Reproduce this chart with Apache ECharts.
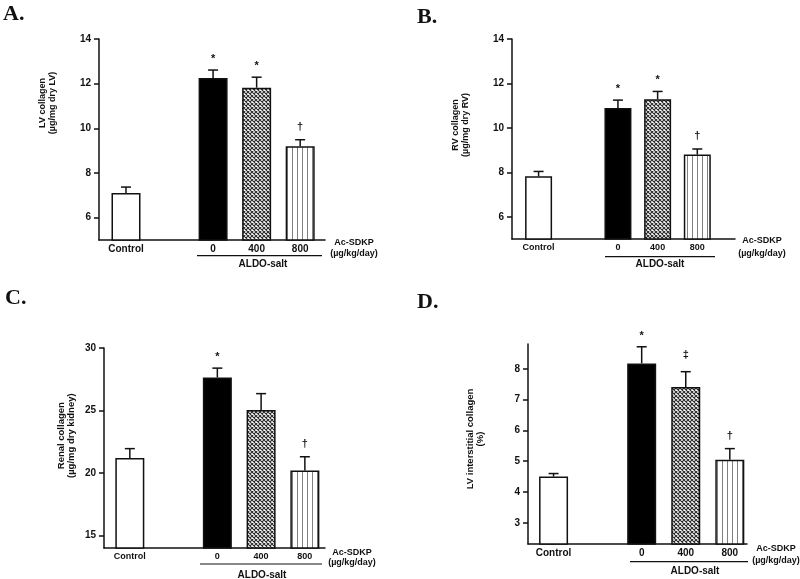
<!DOCTYPE html>
<html>
<head>
<meta charset="utf-8">
<script src="https://cdn.jsdelivr.net/npm/echarts@6/dist/echarts.min.js"></script>
<style>html,body{margin:0;padding:0;background:#fff}#c{width:800px;height:579px}</style>
</head>
<body>
<div id="c"></div>
<script>
// ---- data ----
const categories = ['Control', '0', '400', '800'];

const lvMean = [7.1, 12.25, 11.82, 9.2];
const lvSE = [0.27, 0.36, 0.47, 0.29];
const lvMarks = ['', '*', '*', '†'];
const lvTicks = [6, 8, 10, 12, 14];

const rvMean = [7.82, 10.89, 11.29, 8.8];
const rvSE = [0.22, 0.36, 0.35, 0.25];
const rvMarks = ['', '*', '*', '†'];
const rvTicks = [6, 8, 10, 12, 14];

const renalMean = [21.2, 27.64, 25.05, 20.2];
const renalSE = [0.75, 0.75, 1.3, 1.1];
const renalMarks = ['', '*', '', '†'];
const renalTicks = [15, 20, 25, 30];

const intMean = [4.5, 8.18, 7.41, 5.05];
const intSE = [0.1, 0.54, 0.5, 0.36];
const intMarks = ['', '*', '‡', '†'];
const intTicks = [3, 4, 5, 6, 7, 8];

// ---- layout ----
const xPos = [0, 2, 3, 4];
const SANS = '"Liberation Sans", Arial, Helvetica, sans-serif';
const SERIF = '"Liberation Serif", "Times New Roman", serif';
const INK = '#111';

const panels = [
  {mean: lvMean, se: lvSE, marks: lvMarks, ticks: lvTicks, box: [99, 39, 226, 201], ymin: 5, ymax: 14, xmin: -0.62, xmax: 4.57, barW: 29, catFont: 10,
   letter: ['A.', 3, 14], yname: ['LV collagen\n(µg/mg dry LV)', 47.5, 103, 9], ac: [354, 242.7, 254], aldo: [197, 322, 255.7, 263, 264.5]},
  {mean: rvMean, se: rvSE, marks: rvMarks, ticks: rvTicks, box: [512, 39, 223, 200], ymin: 5, ymax: 14, xmin: -0.67, xmax: 4.95, barW: 27, catFont: 9,
   letter: ['B.', 417, 17.5], yname: ['RV collagen\n(µg/mg dry RV)', 460.5, 125, 9], ac: [762, 240.5, 253.5], aldo: [605, 715, 256.7, 660, 264.5]},
  {mean: renalMean, se: renalSE, marks: renalMarks, ticks: renalTicks, box: [104, 348, 221, 200], ymin: 14, ymax: 30, xmin: -0.59, xmax: 4.46, barW: 29, catFont: 9,
   letter: ['C.', 5, 298.5], yname: ['Renal collagen\n(µg/mg dry kidney)', 66.5, 435.7, 9.5], ac: [352, 552.7, 562.5], aldo: [200, 322, 564, 262, 575]},
  {mean: intMean, se: intSE, marks: intMarks, ticks: intTicks, box: [528, 344, 219, 200], ymin: 2.31, ymax: 8.81, xmin: -0.58, xmax: 4.39, barW: 29, catFont: 10,
   letter: ['D.', 417, 302.5], yname: ['LV interstitial collagen\n(%)', 475, 439, 9.5], ac: [776, 548.5, 560.5], aldo: [630, 748, 561.7, 695, 571]}
];

// ---- fill patterns ----
function hatchTile() {
  const c = document.createElement('canvas'); c.width = 4; c.height = 4;
  const g = c.getContext('2d');
  g.fillStyle = '#fff'; g.fillRect(0, 0, 4, 4);
  g.strokeStyle = '#2a2a2a'; g.lineWidth = 1.1;
  g.beginPath(); g.moveTo(-1, -1); g.lineTo(5, 5); g.moveTo(-1, 5); g.lineTo(5, -1); g.stroke();
  return c;
}
function vlineTile() {
  const c = document.createElement('canvas'); c.width = 5; c.height = 4;
  const g = c.getContext('2d');
  g.fillStyle = '#fff'; g.fillRect(0, 0, 5, 4);
  g.fillStyle = '#808080'; g.fillRect(2, 0, 1, 4);
  return c;
}
const fills = ['#ffffff', '#000000', {image: hatchTile(), repeat: 'repeat'}, {image: vlineTile(), repeat: 'repeat'}];

const chart = echarts.init(document.getElementById('c'), null, {renderer: 'canvas'});

const grids = [], xAxes = [], yAxes = [], series = [], graphics = [];
panels.forEach((p, i) => {
  grids.push({left: p.box[0], top: p.box[1], width: p.box[2], height: p.box[3]});
  xAxes.push({
    type: 'value', gridIndex: i, min: p.xmin, max: p.xmax,
    axisLine: {show: true, onZero: false, lineStyle: {color: INK, width: 1.5}},
    axisTick: {show: false}, splitLine: {show: false},
    axisLabel: {customValues: xPos, formatter: v => categories[xPos.indexOf(v)] || '',
      fontSize: p.catFont, fontWeight: 'bold', color: INK, margin: 4, fontFamily: SANS}
  });
  yAxes.push({
    type: 'value', gridIndex: i, min: p.ymin, max: p.ymax,
    axisLine: {show: true, onZero: false, lineStyle: {color: INK, width: 1.5}},
    axisTick: {show: true, customValues: p.ticks, length: 5, lineStyle: {color: INK, width: 1.5}},
    axisLabel: {customValues: p.ticks, fontSize: 10, fontWeight: 'bold', color: INK, margin: 8, fontFamily: SANS},
    splitLine: {show: false}
  });
  series.push({
    type: 'bar', xAxisIndex: i, yAxisIndex: i, barWidth: p.barW, animation: false,
    data: p.mean.map((m, j) => ({value: [xPos[j], m], itemStyle: {color: fills[j], borderColor: INK, borderWidth: 1.5}}))
  });
  const marks = p.marks;
  series.push({
    type: 'custom', xAxisIndex: i, yAxisIndex: i, z: 10, animation: false,
    data: p.mean.map((m, j) => [xPos[j], m, m + p.se[j]]),
    renderItem: function (params, api) {
      const a = api.coord([api.value(0), api.value(1)]);
      const b = api.coord([api.value(0), api.value(2)]);
      const st = {stroke: INK, lineWidth: 1.5};
      const mk = marks[params.dataIndex];
      const off = mk === '*' ? 11 : (mk === '‡' ? 17 : 13);
      return {type: 'group', children: [
        {type: 'line', shape: {x1: a[0], y1: a[1], x2: b[0], y2: b[1]}, style: st},
        {type: 'line', shape: {x1: b[0] - 5, y1: b[1], x2: b[0] + 5, y2: b[1]}, style: st},
        {type: 'text', x: b[0], y: b[1] - off, style: {text: mk, fill: INK, font: 'bold 11px ' + SANS,
          align: 'center', verticalAlign: 'middle', textAlign: 'center', textVerticalAlign: 'middle'}}
      ]};
    }
  });

  const tx = (text, x, y, font, extra) => Object.assign({type: 'text', x: x, y: y, silent: true,
    style: {text: text, fill: INK, font: font, align: 'center', verticalAlign: 'middle', textAlign: 'center', textVerticalAlign: 'middle'}}, extra || {});
  const lt = tx(p.letter[0], p.letter[1], p.letter[2], 'bold 22px ' + SERIF);
  lt.style.align = 'left'; lt.style.textAlign = 'left';
  graphics.push(lt);
  const yn = tx(p.yname[0], p.yname[1], p.yname[2], 'bold ' + p.yname[3] + 'px ' + SANS, {rotation: Math.PI / 2});
  yn.style.lineHeight = 10;
  graphics.push(yn);
  graphics.push(tx('Ac-SDKP', p.ac[0], p.ac[1], 'bold 9px ' + SANS));
  graphics.push(tx('(µg/kg/day)', p.ac[0], p.ac[2], 'bold 9px ' + SANS));
  graphics.push({type: 'line', silent: true, shape: {x1: p.aldo[0], y1: p.aldo[2], x2: p.aldo[1], y2: p.aldo[2]}, style: {stroke: INK, lineWidth: 1.2}});
  graphics.push(tx('ALDO-salt', p.aldo[3], p.aldo[4], 'bold 10px ' + SANS));
});

chart.setOption({
  animation: false,
  backgroundColor: '#fff',
  grid: grids, xAxis: xAxes, yAxis: yAxes, series: series,
  graphic: {elements: graphics}
});
</script>
</body>
</html>
